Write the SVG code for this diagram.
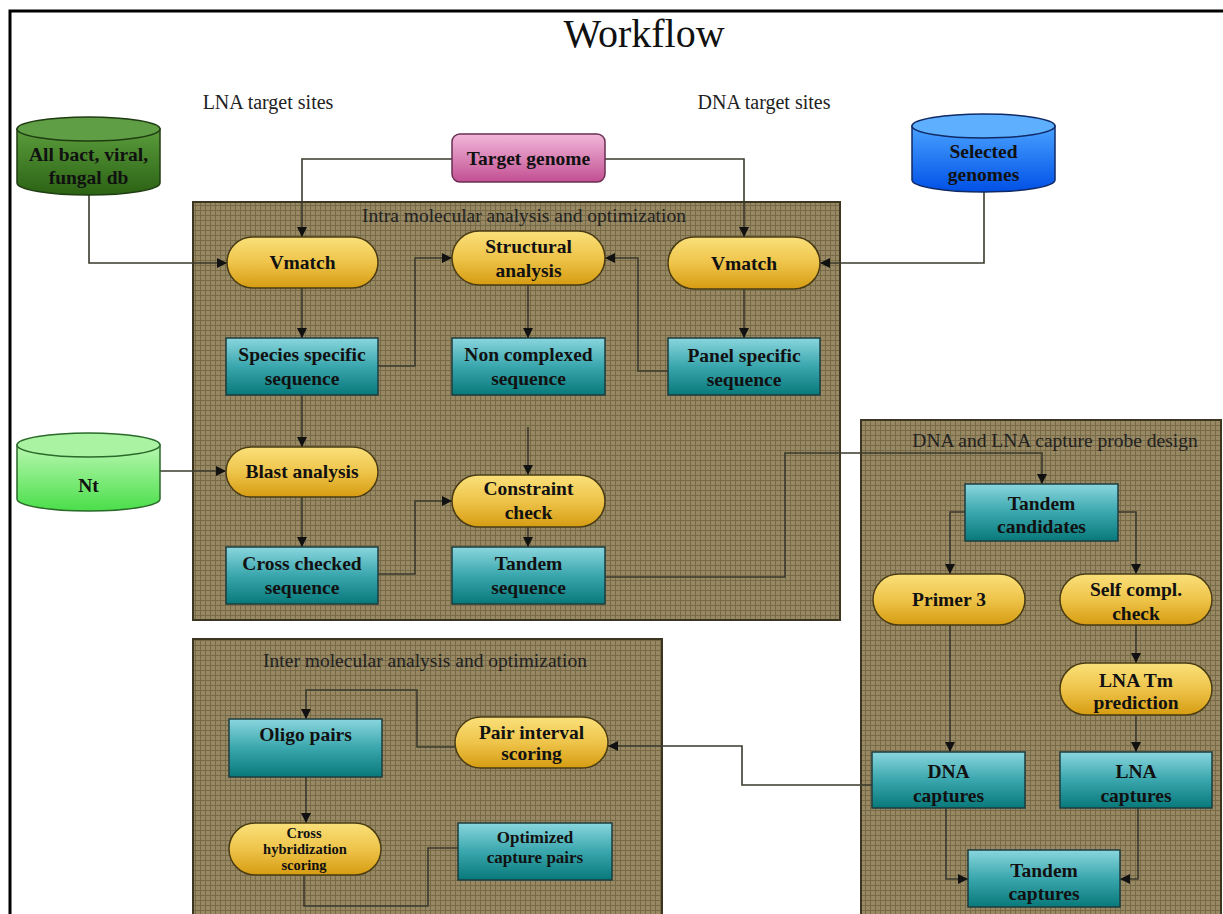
<svg xmlns="http://www.w3.org/2000/svg" width="1223" height="914" viewBox="0 0 1223 914">
  <defs>
    <pattern id="grid" width="5" height="5" patternUnits="userSpaceOnUse">
      <rect width="5" height="5" fill="#988964"/>
      <path d="M0,0.5 H5 M0.5,0 V5" stroke="#776a46" stroke-width="1"/>
    </pattern>
    <linearGradient id="gGold" x1="0" y1="0" x2="0" y2="1">
      <stop offset="0" stop-color="#fae07a"/>
      <stop offset="0.5" stop-color="#eec44a"/>
      <stop offset="1" stop-color="#d69c12"/>
    </linearGradient>
    <linearGradient id="gTeal" x1="0" y1="0" x2="0" y2="1">
      <stop offset="0" stop-color="#8ad6de"/>
      <stop offset="0.5" stop-color="#3aa6ad"/>
      <stop offset="1" stop-color="#08797b"/>
    </linearGradient>
    <linearGradient id="gPink" x1="0" y1="0" x2="0" y2="1">
      <stop offset="0" stop-color="#f2b8da"/>
      <stop offset="1" stop-color="#c24f92"/>
    </linearGradient>
    <linearGradient id="gDark" x1="0" y1="0" x2="0" y2="1">
      <stop offset="0" stop-color="#5b9c3c"/>
      <stop offset="1" stop-color="#2b6214"/>
    </linearGradient>
    <linearGradient id="gBlue" x1="0" y1="0" x2="0" y2="1">
      <stop offset="0" stop-color="#4aa2ff"/>
      <stop offset="1" stop-color="#0050e6"/>
    </linearGradient>
    <linearGradient id="gLight" x1="0" y1="0" x2="0" y2="1">
      <stop offset="0" stop-color="#b8f8b0"/>
      <stop offset="1" stop-color="#4ade4a"/>
    </linearGradient>
    <marker id="arr" viewBox="0 0 10 10" refX="10" refY="5" markerWidth="10" markerHeight="10" markerUnits="userSpaceOnUse" orient="auto">
      <path d="M0,0 L10,5 L0,10 Z" fill="#111"/>
    </marker>
  </defs>
  <style>
    .frame { fill: none; stroke: #000; stroke-width: 3; }
    .group { fill: url(#grid); stroke: #3c3520; stroke-width: 2; }
    .glabel { font-family: "Liberation Serif", serif; font-size: 19.5px; fill: #222; text-anchor: middle; }
    .title { font-family: "Liberation Serif", serif; font-size: 40px; fill: #111; text-anchor: middle; }
    .side { font-family: "Liberation Serif", serif; font-size: 20px; fill: #222; text-anchor: middle; }
    .proc { fill: url(#gGold); stroke: #4a3c14; stroke-width: 1.5; }
    .data { fill: url(#gTeal); stroke: #1d3d3f; stroke-width: 1.5; }
    .pink { fill: url(#gPink); stroke: #6a2f52; stroke-width: 1.5; }
    .dbDark { fill: url(#gDark); stroke: #1f3d12; stroke-width: 1.5; }
    .dbDarkTop { fill: #5f9e44; stroke: #1f3d12; stroke-width: 1.5; }
    .dbBlue { fill: url(#gBlue); stroke: #102a66; stroke-width: 1.5; }
    .dbBlueTop { fill: #5eb0ff; stroke: #102a66; stroke-width: 1.5; }
    .dbLight { fill: url(#gLight); stroke: #2a6a2a; stroke-width: 1.5; }
    .dbLightTop { fill: #aaf3a2; stroke: #2a6a2a; stroke-width: 1.5; }
    .t { font-family: "Liberation Serif", serif; font-weight: bold; font-size: 19.5px; fill: #111; text-anchor: middle; }
    .tsm { font-size: 14.5px; }
    .tmd { font-size: 17px; }
    .conn path { fill: none; stroke: #3a3a2e; stroke-width: 1.6; }
    .conn .a { marker-end: url(#arr); }
  </style>

  <rect width="1223" height="914" fill="#ffffff"/>
  <path class="frame" d="M10,914 V11 H1223"/>

  <text class="title" x="644" y="47">Workflow</text>
  <text class="side" x="268" y="109">LNA target sites</text>
  <text class="side" x="764" y="109">DNA target sites</text>

  <!-- grouping panels -->
  <g id="panel-intra">
    <rect class="group" x="193" y="202" width="647" height="418"/>
    <text class="glabel" x="524" y="222">Intra molecular analysis and optimization</text>
  </g>
  <g id="panel-probe">
    <rect class="group" x="861" y="420" width="360" height="500"/>
    <text class="glabel" x="1055" y="447">DNA and LNA capture probe design</text>
  </g>
  <g id="panel-inter">
    <rect class="group" x="193" y="639" width="469" height="290"/>
    <text class="glabel" x="425" y="667">Inter molecular analysis and optimization</text>
  </g>

  <!-- connectors -->
  <g id="connectors" class="conn">
    <path class="a" d="M452,159 H302 V237"/>
    <path class="a" d="M605,159 H744 V237"/>
    <path class="a" d="M89,195 V263 H227"/>
    <path class="a" d="M984,192 V263 H820"/>
    <path class="a" d="M160,471 H226"/>
    <path class="a" d="M302,288 V338"/>
    <path class="a" d="M302,395 V447"/>
    <path class="a" d="M302,497 V547"/>
    <path class="a" d="M378,366 H415 V258 H452"/>
    <path class="a" d="M378,574 H415 V501 H452"/>
    <path class="a" d="M528,285 V338"/>
    <path class="a" d="M744,289 V338"/>
    <path class="a" d="M668,371 H638 V258 H605"/>
    <path class="a" d="M528,427 V475"/>
    <path class="a" d="M528,527 V547"/>
    <path class="a" d="M605,577 H785 V453 H1042 V484"/>
    <path class="a" d="M965,512 H950 V574"/>
    <path class="a" d="M1118,512 H1136 V574"/>
    <path class="a" d="M1136,625 V663"/>
    <path class="a" d="M950,625 V752"/>
    <path class="a" d="M1136,715 V752"/>
    <path class="a" d="M946,808 V879 H968"/>
    <path class="a" d="M1138,808 V879 H1120"/>
    <path class="a" d="M872,785 H742 V746 H608"/>
    <path class="a" d="M455,747 H417 V690 H306 V719"/>
    <path class="a" d="M306,777 V823"/>
    <path class="a" d="M304,875 V906 H428 V848 H475"/>
  </g>

  <!-- data sources -->
  <g id="db-allbact">
    <path class="dbDark" d="M17,129 V183 A71.5,12 0 0 0 160,183 V129 Z"/>
    <ellipse class="dbDarkTop" cx="88.5" cy="129" rx="71.5" ry="12"/>
    <text class="t" x="88.5" y="161">All bact, viral,</text>
    <text class="t" x="88.5" y="184">fungal db</text>
  </g>
  <g id="db-selected">
    <path class="dbBlue" d="M912,126 V180 A71.5,12 0 0 0 1055,180 V126 Z"/>
    <ellipse class="dbBlueTop" cx="983.5" cy="126" rx="71.5" ry="12"/>
    <text class="t" x="983.5" y="158">Selected</text>
    <text class="t" x="983.5" y="181">genomes</text>
  </g>
  <g id="db-nt">
    <path class="dbLight" d="M17,445 V499 A71.5,12 0 0 0 160,499 V445 Z"/>
    <ellipse class="dbLightTop" cx="88.5" cy="445" rx="71.5" ry="12"/>
    <text class="t" x="88.5" y="492">Nt</text>
  </g>
  <g id="target-genome">
    <rect class="pink" x="452" y="134" width="153" height="48" rx="8"/>
    <text class="t" x="528.5" y="165">Target genome</text>
  </g>

  <!-- intra molecular nodes -->
  <g id="vmatch-lna">
    <rect class="proc" x="227" y="237" width="151" height="51" rx="25.5"/>
    <text class="t" x="302.5" y="269">Vmatch</text>
  </g>
  <g id="structural-analysis">
    <rect class="proc" x="452" y="231" width="153" height="54" rx="27"/>
    <text class="t" x="528.5" y="253">Structural</text>
    <text class="t" x="528.5" y="277">analysis</text>
  </g>
  <g id="vmatch-dna">
    <rect class="proc" x="668" y="237" width="152" height="52" rx="26"/>
    <text class="t" x="744" y="270">Vmatch</text>
  </g>
  <g id="species-specific">
    <rect class="data" x="226" y="338" width="152" height="57"/>
    <text class="t" x="302" y="361">Species specific</text>
    <text class="t" x="302" y="385">sequence</text>
  </g>
  <g id="non-complexed">
    <rect class="data" x="452" y="338" width="153" height="57"/>
    <text class="t" x="528.5" y="361">Non complexed</text>
    <text class="t" x="528.5" y="385">sequence</text>
  </g>
  <g id="panel-specific">
    <rect class="data" x="668" y="338" width="152" height="57"/>
    <text class="t" x="744" y="362">Panel specific</text>
    <text class="t" x="744" y="386">sequence</text>
  </g>
  <g id="blast-analysis">
    <rect class="proc" x="226" y="447" width="152" height="50" rx="25"/>
    <text class="t" x="302" y="478">Blast analysis</text>
  </g>
  <g id="constraint-check">
    <rect class="proc" x="452" y="475" width="153" height="52" rx="26"/>
    <text class="t" x="528.5" y="495">Constraint</text>
    <text class="t" x="528.5" y="519">check</text>
  </g>
  <g id="cross-checked">
    <rect class="data" x="226" y="547" width="152" height="57"/>
    <text class="t" x="302" y="570">Cross checked</text>
    <text class="t" x="302" y="594">sequence</text>
  </g>
  <g id="tandem-sequence">
    <rect class="data" x="452" y="547" width="153" height="57"/>
    <text class="t" x="528.5" y="570">Tandem</text>
    <text class="t" x="528.5" y="594">sequence</text>
  </g>

  <!-- capture probe design nodes -->
  <g id="tandem-candidates">
    <rect class="data" x="965" y="484" width="153" height="57"/>
    <text class="t" x="1041.5" y="510">Tandem</text>
    <text class="t" x="1041.5" y="533">candidates</text>
  </g>
  <g id="primer3">
    <rect class="proc" x="873" y="574" width="152" height="51" rx="25.5"/>
    <text class="t" x="949" y="606">Primer 3</text>
  </g>
  <g id="self-compl">
    <rect class="proc" x="1060" y="574" width="152" height="51" rx="25.5"/>
    <text class="t" x="1136" y="596">Self compl.</text>
    <text class="t" x="1136" y="620">check</text>
  </g>
  <g id="lna-tm">
    <rect class="proc" x="1060" y="663" width="152" height="52" rx="26"/>
    <text class="t" x="1136" y="687">LNA Tm</text>
    <text class="t" x="1136" y="709">prediction</text>
  </g>
  <g id="dna-captures">
    <rect class="data" x="872" y="752" width="153" height="56"/>
    <text class="t" x="948.5" y="778">DNA</text>
    <text class="t" x="948.5" y="802">captures</text>
  </g>
  <g id="lna-captures">
    <rect class="data" x="1060" y="752" width="152" height="56"/>
    <text class="t" x="1136" y="778">LNA</text>
    <text class="t" x="1136" y="802">captures</text>
  </g>
  <g id="tandem-captures">
    <rect class="data" x="968" y="850" width="152" height="57"/>
    <text class="t" x="1044" y="877">Tandem</text>
    <text class="t" x="1044" y="900">captures</text>
  </g>

  <!-- inter molecular nodes -->
  <g id="oligo-pairs">
    <rect class="data" x="229" y="719" width="153" height="58"/>
    <text class="t" x="305.5" y="741">Oligo pairs</text>
  </g>
  <g id="pair-interval">
    <rect class="proc" x="455" y="717" width="153" height="51" rx="25.5"/>
    <text class="t" x="531.5" y="739">Pair interval</text>
    <text class="t" x="531.5" y="760">scoring</text>
  </g>
  <g id="cross-hybridization">
    <rect class="proc" x="229" y="823" width="152" height="52" rx="26"/>
    <text class="t tsm" x="304" y="838">Cross</text>
    <text class="t tsm" x="305" y="854">hybridization</text>
    <text class="t tsm" x="304" y="870">scoring</text>
  </g>
  <g id="optimized-pairs">
    <rect class="data" x="458" y="823" width="154" height="57"/>
    <text class="t tmd" x="535" y="843">Optimized</text>
    <text class="t tmd" x="535" y="863">capture pairs</text>
  </g>
</svg>
